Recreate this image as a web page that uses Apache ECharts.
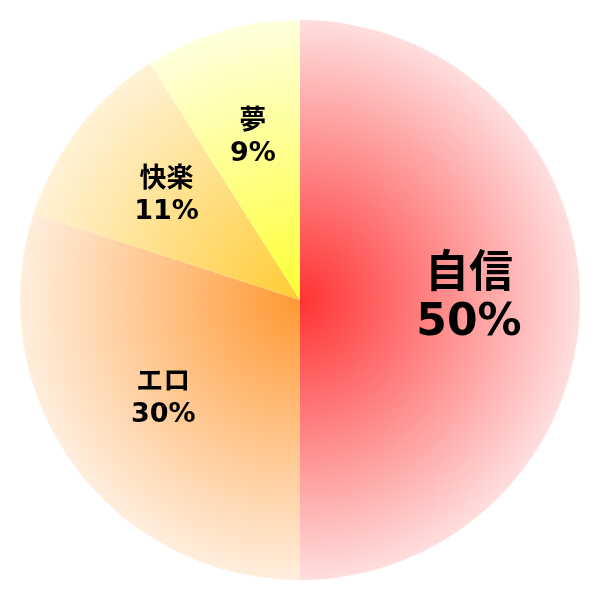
<!DOCTYPE html>
<html>
<head>
<meta charset="utf-8">
<script src="https://cdn.jsdelivr.net/npm/echarts@6/dist/echarts.min.js"></script>
<style>
html, body { margin: 0; padding: 0; background: #fff; }
#main { width: 600px; height: 600px; }
</style>
</head>
<body>
<div id="main"></div>
<script>
// データ
var names = ['自信', 'エロ', '快楽', '夢'];
var values = [50, 30, 11, 9];
var innerColors = ['#ff3333', '#ff9933', '#ffcc33', '#ffff33'];
var outerColors = ['#ffdede', '#ffeedd', '#fff2d6', '#ffffdd'];

var myChart = echarts.init(document.getElementById('main'));

// 放射グラデーション（円の中心から外側へ）
function grad(i) {
    return {
        type: 'radial', x: 300, y: 300, r: 280, global: true,
        colorStops: [
            {offset: 0, color: innerColors[i]},
            {offset: 1, color: outerColors[i]}
        ]
    };
}

var pieData = names.map(function (n, i) {
    return {name: n, value: values[i], itemStyle: {color: grad(i)}};
});

// ラベル専用の透明な系列（半径0.6の位置に文字を置く）
var labelData = names.map(function (n, i) {
    var big = i === 0;
    return {
        name: n, value: values[i],
        label: {
            fontSize: big ? 44 : 27,
            lineHeight: big ? 48 : 32
        }
    };
});

myChart.setOption({
    animation: false,
    series: [{
        type: 'pie',
        center: [300, 300],
        radius: [0, 280],
        startAngle: 90,
        clockwise: true,
        silent: true,
        label: {show: false},
        labelLine: {show: false},
        itemStyle: {borderWidth: 0},
        data: pieData
    }, {
        type: 'pie',
        center: [300, 300],
        radius: [0, 332],
        startAngle: 90,
        clockwise: true,
        silent: true,
        itemStyle: {color: 'rgba(0,0,0,0)', borderWidth: 0},
        label: {
            show: true,
            position: 'inside',
            formatter: '{b}\n{c}%',
            color: '#000',
            fontWeight: 'bold',
            fontFamily: 'DejaVu Sans, "Noto Sans CJK JP", sans-serif',
            textBorderWidth: 0
        },
        labelLine: {show: false},
        data: labelData
    }]
});
</script>
</body>
</html>
